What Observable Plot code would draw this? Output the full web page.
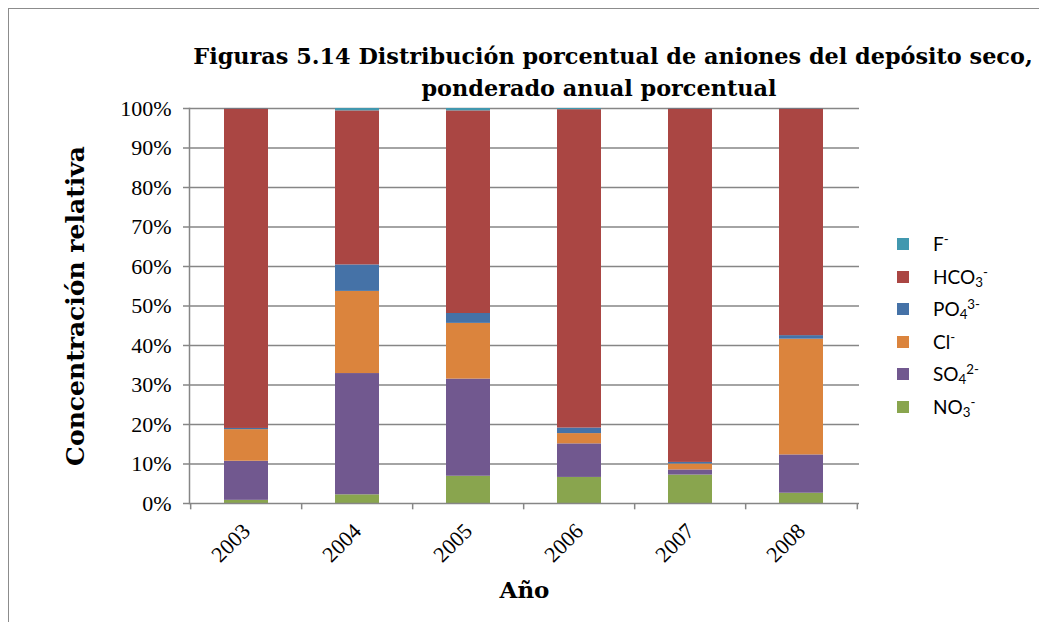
<!DOCTYPE html>
<html>
<head>
<meta charset="utf-8">
<script src="https://cdn.jsdelivr.net/npm/d3@7"></script>
<script src="https://cdn.jsdelivr.net/npm/@observablehq/plot@0.6"></script>
<style>
  body { margin: 0; background: #fff; }
  #wrap { position: relative; width: 1039px; height: 622px; overflow: hidden; background: #fff; }
  #border { position: absolute; left: 8px; top: 8px; width: 1100px; height: 700px; border-top: 1.5px solid #8c8c8c; border-left: 1.5px solid #8c8c8c; }
  .title { position: absolute; white-space: nowrap; transform: translateX(-50%); font-family: "DejaVu Serif", serif; font-weight: bold; font-size: 22px; line-height: 30px; color: #000; }
  #legend { position: absolute; left: 897px; top: 0; font-family: Lato, "Open Sans", sans-serif; font-size: 19px; color: #000; }
  .item { position: absolute; left: 0; height: 24px; white-space: nowrap; }
  .sw { position: absolute; left: 0; top: 6px; width: 12px; height: 12px; }
  .lab { position: absolute; left: 36px; top: 0; line-height: 24px; }
  .lab sub { font-size: 0.7em; vertical-align: -0.25em; line-height: 0; }
  .lab sup { font-size: 0.7em; vertical-align: 0.55em; line-height: 0; }
  #plot { position: absolute; left: 0; top: 0; }
</style>
</head>
<body>
<div id="wrap">
  <div id="border"></div>
  <div id="plot"></div>
  <div class="title" id="t1" style="left:613px; top:41px;"></div>
  <div class="title" id="t2" style="left:599px; top:73px;"></div>
  <div id="legend"></div>
</div>
<script>
// ---- data ----
const years = ["2003", "2004", "2005", "2006", "2007", "2008"];
const anions = ["NO3-", "SO42-", "Cl-", "PO43-", "HCO3-", "F-"]; // stacking order, bottom to top
const NO3 = [0.8, 2.2, 6.9, 6.6, 7.2, 2.6];
const SO4 = [9.9, 30.7, 24.6, 8.5, 1.3, 9.7];
const Cl = [8.0, 20.8, 14.1, 2.6, 1.5, 29.3];
const PO4 = [0.3, 6.7, 2.5, 1.4, 0.4, 0.9];
const HCO3 = [80.9, 39.0, 51.3, 80.6, 89.5, 57.4];
const F = [0.1, 0.6, 0.6, 0.3, 0.1, 0.1];
const colors = ["#89A54E", "#71588F", "#DB843D", "#4572A7", "#AA4643", "#4198AF"];
const yTicks = [0, 10, 20, 30, 40, 50, 60, 70, 80, 90, 100];
const titleLines = ["Figuras 5.14 Distribución porcentual de aniones del depósito seco,", "ponderado anual porcentual"];
const yTitle = "Concentración relativa";
const xTitle = "Año";
// legend (top to bottom) with chemical formatting
const legendOrder = ["F-", "HCO3-", "PO43-", "Cl-", "SO42-", "NO3-"];
const legendHtml = ["F<sup>-</sup>", "HCO<sub>3</sub><sup>-</sup>", "PO<sub>4</sub><sup>3-</sup>", "Cl<sup>-</sup>", "SO<sub>4</sub><sup>2-</sup>", "NO<sub>3</sub><sup>-</sup>"];

const seriesValues = [NO3, SO4, Cl, PO4, HCO3, F];
const data = [];
anions.forEach((a, k) => years.forEach((y, i) => data.push({year: y, anion: a, value: seriesValues[k][i]})));

const W = 1039, H = 622;
const mL = 189, mR = 180, mT = 108, mB = 119;
const step = (W - mL - mR) / years.length;
const gray = "#868686";
const tickFont = "'Liberation Serif', serif";

const chart = Plot.plot({
  width: W,
  height: H,
  marginLeft: mL,
  marginRight: mR,
  marginTop: mT,
  marginBottom: mB,
  style: {background: "transparent", fontFamily: tickFont, fontSize: "22px", color: "#000", overflow: "visible"},
  x: {domain: years, paddingInner: 0.6, paddingOuter: 0.3, label: null},
  y: {domain: [0, 100], label: null},
  color: {domain: anions, range: colors},
  marks: [
    Plot.ruleY(yTicks.slice(1), {stroke: gray, strokeWidth: 1.5}),
    Plot.barY(data, {x: "year", y: "value", fill: "anion", order: anions}),
    Plot.axisY({ticks: yTicks, tickFormat: d => d + "%", tickSize: 6, tickPadding: 12, stroke: gray, strokeWidth: 1.5, fontSize: 22, fontFamily: tickFont, label: null}),
    Plot.axisX({tickSize: 0, tickRotate: -45, tickPadding: 24, fontSize: 22, fontFamily: tickFont, label: null}),
    Plot.frame({anchor: "left", stroke: gray, strokeWidth: 1.5}),
    Plot.ruleY([0], {stroke: gray, strokeWidth: 1.5}),
    Plot.ruleX(years, {x: d => d, dx: -step / 2, y1: 0, y2: -1.6, stroke: gray, strokeWidth: 1.5, clip: false}),
    Plot.ruleX([years[years.length - 1]], {x: d => d, dx: step / 2, y1: 0, y2: -1.6, stroke: gray, strokeWidth: 1.5, clip: false}),
    Plot.text([yTitle], {frameAnchor: "left", dx: -114, rotate: -90, text: d => d, textAnchor: "middle", lineAnchor: "middle", fontWeight: "bold", fontSize: 25, fontFamily: "'DejaVu Serif', serif"}),
    Plot.text([xTitle], {frameAnchor: "bottom", dy: 87, text: d => d, textAnchor: "middle", lineAnchor: "middle", fontWeight: "bold", fontSize: 23, fontFamily: "'DejaVu Serif', serif"})
  ]
});
document.getElementById("plot").appendChild(chart);

const t1 = document.getElementById("t1");
const t2 = document.getElementById("t2");
t1.textContent = titleLines[0];
t2.textContent = titleLines[1];
// fit the title's first line to the width it has in the reference (about 840px)
const w1 = t1.getBoundingClientRect().width;
if (w1 > 0) {
  const fs = Math.min(24, 22 * 840 / w1);
  t1.style.fontSize = fs + "px";
  t2.style.fontSize = fs + "px";
}

const legend = document.getElementById("legend");
const rowTop = 232, rowStep = 32.6;
legendOrder.forEach((a, i) => {
  const item = document.createElement("div");
  item.className = "item";
  item.style.top = (rowTop + i * rowStep) + "px";
  const sw = document.createElement("div");
  sw.className = "sw";
  sw.style.background = colors[anions.indexOf(a)];
  const lab = document.createElement("div");
  lab.className = "lab";
  lab.innerHTML = legendHtml[i];
  item.appendChild(sw);
  item.appendChild(lab);
  legend.appendChild(item);
});
</script>
</body>
</html>
